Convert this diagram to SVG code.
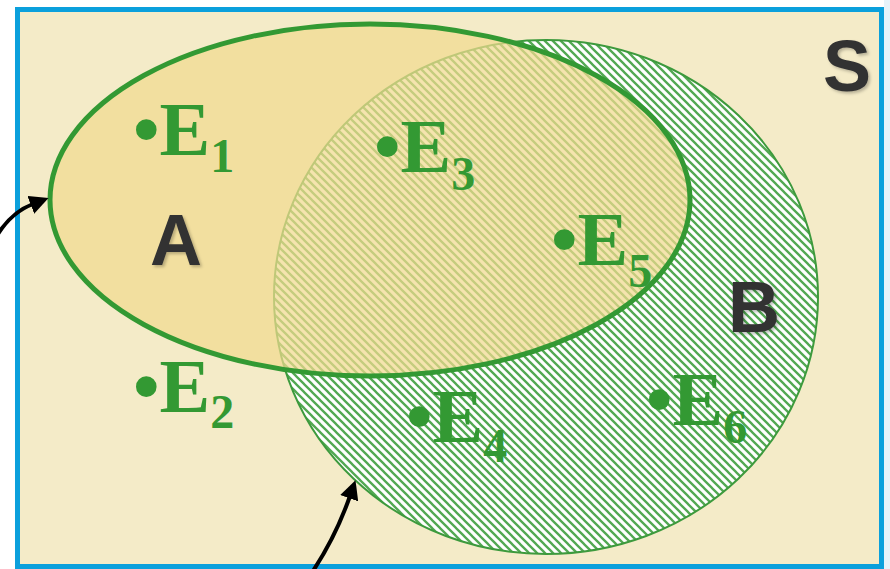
<svg xmlns="http://www.w3.org/2000/svg" width="890" height="569" viewBox="0 0 890 569">
  <defs>
    <pattern id="hatch" patternUnits="userSpaceOnUse" width="8" height="8">
      <rect width="8" height="8" fill="#ffffff"/>
      <path d="M-2,-2 L10,10 M-2,6 L2,10 M6,-2 L10,2" stroke="#52a852" stroke-width="2.3"/>
    </pattern>
    <marker id="arrow" markerUnits="userSpaceOnUse" markerWidth="19" markerHeight="19" viewBox="0 0 16 16" refX="2" refY="8" orient="auto">
      <path d="M0,0 L16,8 L0,16 z" fill="#000"/>
    </marker>
    <filter id="shadow" x="-20%" y="-20%" width="150%" height="150%">
      <feDropShadow dx="2" dy="2" stdDeviation="1.5" flood-color="#000" flood-opacity="0.25"/>
    </filter>
  </defs>
  <style>
    .lbl { font-family: "Liberation Serif", "Times New Roman", serif; font-weight: bold; font-size: 76px; fill: #339933; }
    .sub { font-size: 48px; }
    .set { font-family: "Liberation Sans", Arial, sans-serif; font-weight: bold; font-size: 72px; fill: #333333; filter: url(#shadow); }
    .conn { fill: none; stroke: #000; stroke-width: 4; marker-end: url(#arrow); }
  </style>
  <rect x="0" y="0" width="890" height="569" fill="#ffffff"/>
  <rect x="884" y="0" width="6" height="569" fill="#e6f3fa"/>
  <g id="S">
    <rect x="17.5" y="9.5" width="864" height="557" fill="#f4ebc8" stroke="#0ba0dc" stroke-width="5"/>
    <text class="set" x="823" y="91">S</text>
  </g>
  <g id="B">
    <ellipse cx="546" cy="297" rx="272" ry="257" fill="url(#hatch)" stroke="#3d9a3d" stroke-width="2"/>
    <text class="set" x="728" y="332">B</text>
  </g>
  <g id="A">
    <ellipse cx="370" cy="200" rx="320" ry="176" fill="#f1da8f" fill-opacity="0.72" stroke="#339933" stroke-width="5"/>
    <text class="set" x="150" y="265">A</text>
  </g>
  <g id="E1"><text class="lbl" x="133" y="155">•E<tspan class="sub" dy="17">1</tspan></text></g>
  <g id="E2"><text class="lbl" x="133" y="412">•E<tspan class="sub" dy="16">2</tspan></text></g>
  <g id="E3"><text class="lbl" x="374" y="172">•E<tspan class="sub" dy="18">3</tspan></text></g>
  <g id="E4"><text class="lbl" x="406" y="442">•E<tspan class="sub" dy="20">4</tspan></text></g>
  <g id="E5"><text class="lbl" x="551" y="265">•E<tspan class="sub" dy="22">5</tspan></text></g>
  <g id="E6"><text class="lbl" x="646" y="425">•E<tspan class="sub" dy="18">6</tspan></text></g>
  <g id="connectors">
    <path class="conn" d="M-2,234 Q12,212 33,204"/>
    <path class="conn" d="M313,571 Q336,536 350,496"/>
  </g>
</svg>
